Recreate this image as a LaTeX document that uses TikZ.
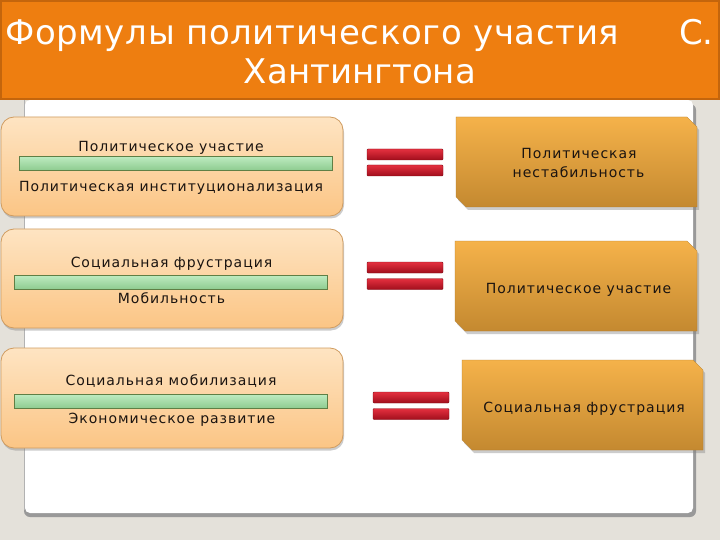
\documentclass[tikz,border=0pt]{standalone}
\usepackage{fontspec}
\setmainfont{DejaVu Sans}
\newfontfamily\bodyfont[LetterSpace=7]{DejaVu Sans}
\newfontfamily\titlefont[LetterSpace=1.8]{DejaVu Sans}
\usetikzlibrary{shadows,shapes.misc}
\definecolor{bgc}{HTML}{E4E1DA}
\definecolor{titleor}{HTML}{EE7E10}
\definecolor{titleedge}{HTML}{C4650C}
\definecolor{lbtop}{HTML}{FEE4C2}
\definecolor{lbbot}{HTML}{FBC585}
\definecolor{lbedge}{HTML}{D09C60}
\definecolor{grtop}{HTML}{BDEBC0}
\definecolor{grbot}{HTML}{8DCB8F}
\definecolor{gredge}{HTML}{5F7F45}
\definecolor{rdtop}{HTML}{E4303F}
\definecolor{rdbot}{HTML}{A10E1C}
\definecolor{rbtop}{HTML}{F5B24A}
\definecolor{rbbot}{HTML}{C48930}
\definecolor{txt}{HTML}{1B1410}
\tikzset{
  leftbox/.style={rounded corners=13pt, top color=lbtop, bottom color=lbbot, draw=lbedge, line width=0.8pt,
    drop shadow={opacity=0.4, shadow xshift=1pt, shadow yshift=-2.5pt}},
  greenbar/.style={top color=grtop, bottom color=grbot, draw=gredge, line width=0.8pt},
  redbar/.style={top color=rdtop, bottom color=rdbot, draw=rdbot!80!black, line width=0.4pt, rounded corners=1pt},
  rightbox/.style={top color=rbtop, bottom color=rbbot, draw=rbbot!90!black, line width=0.3pt,
    drop shadow={opacity=0.4, shadow xshift=2pt, shadow yshift=-3pt}},
  ltext/.style={anchor=base, inner sep=0pt, text=txt, font=\bodyfont\fontsize{14}{16}\selectfont},
  rtext/.style={anchor=base, inner sep=0pt, text=txt, font=\bodyfont\fontsize{14}{16}\selectfont},
  ttext/.style={inner sep=0pt, text=white, font=\fontsize{34}{40}\selectfont},
}
\begin{document}
\begin{tikzpicture}[x=1pt,y=-1pt]
\useasboundingbox (0,0) rectangle (720,540);
\fill[bgc] (0,0) rectangle (720,540);
% white panel with shadow
\fill[black!40, rounded corners=6pt] (24,104) rectangle (696,517);
\fill[white, rounded corners=5pt] (25,100) rectangle (693,513);
\draw[black!30, line width=1pt] (24.5,100) -- (24.5,510);
% title bar
\fill[titleor] (0,0) rectangle (720,100);
\draw[titleedge, line width=2pt] (1,1) rectangle (719,99);
\node[ttext, anchor=base west, font=\titlefont\fontsize{34}{40}\selectfont] (t1) at (5,45) {Формулы политического участия};
\node[ttext, anchor=base east] (t2) at (714,45) {С.};
\node[ttext, anchor=base] (t3) at (360,84) {Хантингтона};

% left boxes
\node[leftbox, minimum width=342pt, minimum height=99pt, inner sep=0pt] (lb1) at (172,166.5) {};
\node[leftbox, minimum width=342pt, minimum height=99pt, inner sep=0pt] (lb2) at (172,278.5) {};
\node[leftbox, minimum width=342pt, minimum height=100pt, inner sep=0pt] (lb3) at (172,398) {};

% green bars
\node[greenbar, minimum width=313pt, minimum height=14pt, inner sep=0pt] (g1) at (175.5,163.5) {};
\node[greenbar, minimum width=313pt, minimum height=14pt, inner sep=0pt] (g2) at (170.5,282.5) {};
\node[greenbar, minimum width=313pt, minimum height=14pt, inner sep=0pt] (g3) at (170.5,401.5) {};

% left texts
\node[ltext] (a1) at (171,152) {Политическое участие};
\node[ltext] (a2) at (171,192) {Политическая институционализация};
\node[ltext] (b1) at (171.5,267) {Социальная фрустрация};
\node[ltext] (b2) at (171.5,303) {Мобильность};
\node[ltext] (c1) at (171,385) {Социальная мобилизация};
\node[ltext] (c2) at (172,423) {Экономическое развитие};

% equal signs
\node[redbar, minimum width=76pt, minimum height=11pt, inner sep=0pt] (e1a) at (405,154.5) {};
\node[redbar, minimum width=76pt, minimum height=11pt, inner sep=0pt] (e1b) at (405,170.5) {};
\node[redbar, minimum width=76pt, minimum height=11pt, inner sep=0pt] (e2a) at (405,267.5) {};
\node[redbar, minimum width=76pt, minimum height=11pt, inner sep=0pt] (e2b) at (405,284) {};
\node[redbar, minimum width=76pt, minimum height=11pt, inner sep=0pt] (e3a) at (411,397.5) {};
\node[redbar, minimum width=76pt, minimum height=11pt, inner sep=0pt] (e3b) at (411,414) {};

% right boxes
\path[rightbox] (456,117) -- (687,117) -- (697,127) -- (697,207) -- (466,207) -- (456,197) -- cycle;
\path[rightbox] (455,241) -- (687,241) -- (697,251) -- (697,331) -- (465,331) -- (455,321) -- cycle;
\path[rightbox] (462,360) -- (693,360) -- (703,370) -- (703,450) -- (472,450) -- (462,440) -- cycle;

% right texts
\node[rtext] (r1a) at (579,159) {Политическая};
\node[rtext] (r1b) at (578.5,178) {нестабильность};
\node[rtext] (r2) at (578.5,293) {Политическое участие};
\node[rtext] (r3) at (584,412) {Социальная фрустрация};
\end{tikzpicture}
\end{document}
